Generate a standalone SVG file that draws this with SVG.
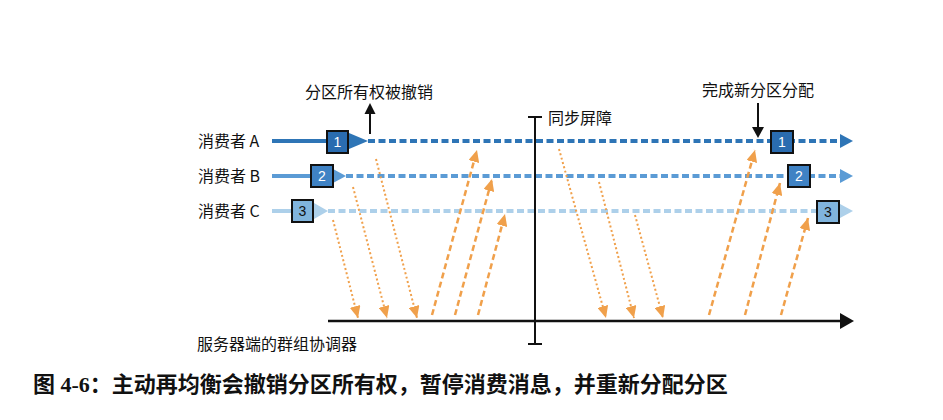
<svg xmlns="http://www.w3.org/2000/svg" width="943" height="420" viewBox="0 0 943 420">
<style>
.lbl{font-family:"Noto Sans CJK SC","Liberation Sans",sans-serif;font-size:16px;fill:#111}
.cap{font-family:"Liberation Serif","Noto Sans CJK SC",serif;font-size:22px;font-weight:bold;fill:#111}
.num{font-family:"Liberation Sans",sans-serif;font-size:14px;text-anchor:middle}
.box{stroke:#111;stroke-width:2}
.down{stroke:#f0a04b;stroke-width:2;stroke-dasharray:2 2.5;fill:none}
.up{stroke:#f0a04b;stroke-width:2.5;stroke-dasharray:6 3.5;fill:none}
.dA{stroke:#2e75b6;stroke-width:4;stroke-dasharray:7 3.5}
.dB{stroke:#5b9bd5;stroke-width:4;stroke-dasharray:7 3.5}
.dC{stroke:#add0ea;stroke-width:4;stroke-dasharray:7 3.5}
</style>
<defs>
<marker id="oa" markerUnits="userSpaceOnUse" markerWidth="13" markerHeight="11" refX="12" refY="5.5" orient="auto" viewBox="0 0 13 11">
<path d="M0,0 L12,5.5 L0,11 z" fill="#f0a04b"/>
</marker>
</defs>
<rect width="943" height="420" fill="#fff"/>

<g id="connectors">
  <!-- consumer A -->
  <line x1="272" y1="141" x2="330" y2="141" stroke="#2e75b6" stroke-width="4"/>
  <line x1="368" y1="141" x2="841" y2="141" class="dA"/>
  <polygon points="349,133 368,141 349,149" fill="#2e75b6"/>
  <polygon points="840,134 853,141 840,148" fill="#2e75b6"/>
  <!-- consumer B -->
  <line x1="272" y1="176" x2="313" y2="176" stroke="#5b9bd5" stroke-width="4"/>
  <line x1="346" y1="176" x2="841" y2="176" class="dB"/>
  <polygon points="333,169 346,176 333,183" fill="#5b9bd5"/>
  <polygon points="840,169 853,176 840,183" fill="#5b9bd5"/>
  <!-- consumer C -->
  <line x1="272" y1="211" x2="294" y2="211" stroke="#add0ea" stroke-width="4"/>
  <line x1="328" y1="211" x2="841" y2="211" class="dC"/>
  <polygon points="314,203 328,211 314,219" fill="#add0ea"/>
  <polygon points="840,204 853,211 840,218" fill="#add0ea"/>

  <!-- coordinator timeline -->
  <line x1="328" y1="321" x2="842" y2="321" stroke="#111" stroke-width="2.5"/>
  <polygon points="840,313 854,321 840,329" fill="#111"/>
  <!-- sync barrier -->
  <line x1="535" y1="117" x2="535" y2="344" stroke="#111" stroke-width="2"/>
  <line x1="528" y1="117" x2="542" y2="117" stroke="#111" stroke-width="2"/>
  <line x1="528" y1="344" x2="542" y2="344" stroke="#111" stroke-width="2"/>
  <!-- revoke arrow -->
  <line x1="370" y1="134" x2="370" y2="112" stroke="#111" stroke-width="2"/>
  <polygon points="364.5,114 370,103 375.5,114" fill="#111"/>
  <!-- reassign arrow -->
  <line x1="758" y1="103" x2="758" y2="128" stroke="#111" stroke-width="2"/>
  <polygon points="752,127 758,138 764,127" fill="#111"/>

  <!-- left group -->
  <line x1="333" y1="220" x2="358" y2="318" class="down" marker-end="url(#oa)"/>
  <line x1="353" y1="187" x2="387" y2="318" class="down" marker-end="url(#oa)"/>
  <line x1="376" y1="159" x2="417" y2="318" class="down" marker-end="url(#oa)"/>
  <line x1="432" y1="315" x2="477" y2="150" class="up" marker-end="url(#oa)"/>
  <line x1="455" y1="315" x2="492" y2="179" class="up" marker-end="url(#oa)"/>
  <line x1="478" y1="315" x2="505" y2="214" class="up" marker-end="url(#oa)"/>
  <!-- right group -->
  <line x1="559" y1="149" x2="606" y2="318" class="down" marker-end="url(#oa)"/>
  <line x1="599" y1="182" x2="634" y2="318" class="down" marker-end="url(#oa)"/>
  <line x1="635" y1="215" x2="663" y2="318" class="down" marker-end="url(#oa)"/>
  <line x1="709" y1="315" x2="755" y2="150" class="up" marker-end="url(#oa)"/>
  <line x1="745" y1="315" x2="780" y2="183" class="up" marker-end="url(#oa)"/>
  <line x1="781" y1="315" x2="808" y2="218" class="up" marker-end="url(#oa)"/>
</g>

<g id="consumerA">
  <text class="lbl" x="198" y="147">消费者 A</text>
  <rect class="box" x="327" y="131" width="21" height="22" fill="#2a6cb0"/>
  <text class="num" x="337.5" y="147" fill="#fff">1</text>
  <rect class="box" x="771" y="131" width="22" height="22" fill="#2a6cb0"/>
  <text class="num" x="782" y="147" fill="#fff">1</text>
</g>
<g id="consumerB">
  <text class="lbl" x="198" y="182">消费者 B</text>
  <rect class="box" x="311" y="165" width="22" height="22" fill="#3f82c4"/>
  <text class="num" x="322" y="181" fill="#fff">2</text>
  <rect class="box" x="788" y="165" width="22" height="22" fill="#3f82c4"/>
  <text class="num" x="799" y="181" fill="#fff">2</text>
</g>
<g id="consumerC">
  <text class="lbl" x="198" y="217">消费者 C</text>
  <rect class="box" x="292" y="200" width="21" height="22" fill="#80b4dd"/>
  <text class="num" x="302.5" y="216" fill="#111">3</text>
  <rect class="box" x="817" y="201" width="22" height="22" fill="#80b4dd"/>
  <text class="num" x="828" y="217" fill="#111">3</text>
</g>
<g id="labels">
  <text class="lbl" x="305" y="98">分区所有权被撤销</text>
  <text class="lbl" x="702" y="96">完成新分区分配</text>
  <text class="lbl" x="548" y="124">同步屏障</text>
  <text class="lbl" x="197" y="350">服务器端的群组协调器</text>
</g>
<g id="caption">
  <text class="cap" x="33" y="392">图 4-6：主动再均衡会撤销分区所有权，暂停消费消息，并重新分配分区</text>
</g>
</svg>
